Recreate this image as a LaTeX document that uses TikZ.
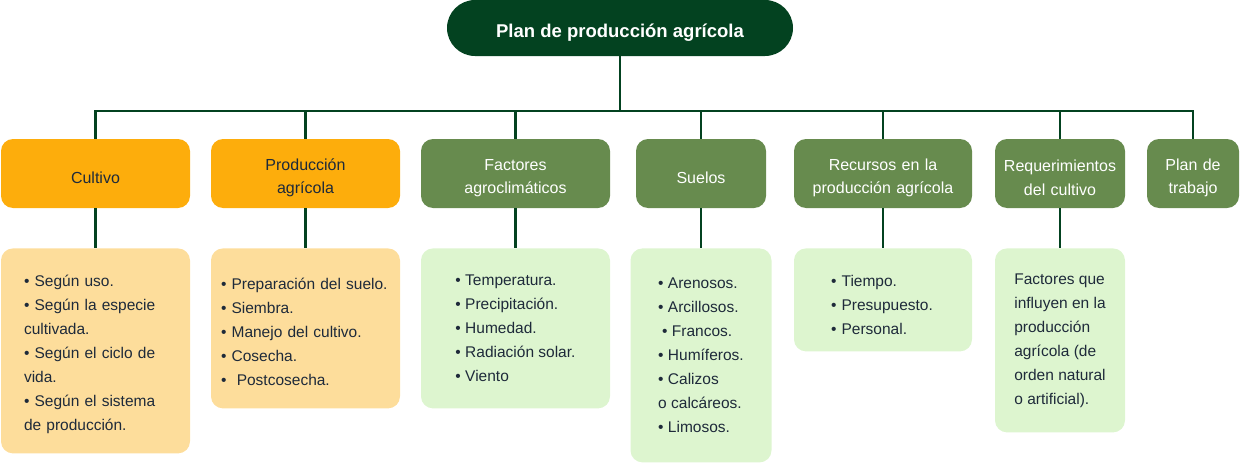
\documentclass[tikz,border=0pt]{standalone}
\usepackage{fontspec}
\setmainfont{Liberation Sans}
\usepackage{tikz}
\usetikzlibrary{positioning}
\definecolor{deepgreen}{RGB}{3,66,32}
\definecolor{leafgreen}{RGB}{103,139,78}
\definecolor{palegreen}{RGB}{221,245,207}
\definecolor{amber}{RGB}{253,173,12}
\definecolor{paleamber}{RGB}{253,221,155}
\definecolor{inktext}{RGB}{30,42,58}

\begin{document}
\begin{tikzpicture}[
  x=1pt, y=1pt,
  node distance=40pt,
  textdrop/.style={execute at begin node={\rule{0pt}{#1}}},
  root/.style={fill=deepgreen, text=white, rounded corners=28pt, minimum width=346pt, minimum height=56pt, text height=22pt, font=\fontsize{18.5}{22}\selectfont\bfseries},
  topic/.style={fill=leafgreen, text=white, rounded corners=12pt, minimum height=69pt, align=center, textdrop=20.5pt, font=\fontsize{16}{23.5}\selectfont},
  topicA/.style={topic, fill=amber, text=inktext},
  items/.style={fill=palegreen, text=inktext, rounded corners=12pt, align=left, font=\fontsize{15.5}{24}\selectfont},
  itemsA/.style={items, fill=paleamber},
  link/.style={draw=deepgreen, line width=2.8pt}
]
\useasboundingbox (0,0) rectangle (1240,-463);

\node[root] (plan) at (620,-28) {Plan de producción agrícola};
\coordinate (bar) at (620,-111);

\node[topicA, minimum width=189pt, text width=181pt] (cultivo) at (95.5,-173.5) {Cultivo};
\node[topicA, minimum width=189pt, text width=181pt] (produccion) at (305.5,-173.5) {Producción\\agrícola};
\node[topic, minimum width=189pt, text width=181pt] (factores) at (515.5,-173.5) {Factores\\agroclimáticos};
\node[topic, minimum width=130pt, text width=122pt] (suelos) at (701,-173.5) {Suelos};
\node[topic, minimum width=178pt, text width=170pt] (recursos) at (883,-173.5) {Recursos en la\\producción agrícola};
\node[topic, minimum width=130pt, text width=122pt] (requerimientos) at (1060,-173.5) {Requerimientos\\del cultivo};
\node[topic, minimum width=92pt, text width=84pt] (trabajo) at (1193,-173.5) {Plan de\\trabajo};

\node[itemsA, minimum width=189pt, minimum height=205pt, text width=143pt, textdrop=18pt, below=of cultivo] (cultivo-items) {• Según uso.\\• Según la especie\\cultivada.\\• Según el ciclo de\\vida.\\• Según el sistema\\de producción.};
\node[itemsA, minimum width=189pt, minimum height=160pt, text width=169pt, textdrop=17.5pt, below=of produccion] (produccion-items) {• Preparación del suelo.\\• Siembra.\\• Manejo del cultivo.\\• Cosecha.\\•~~Postcosecha.};
\node[items, minimum width=189pt, minimum height=160pt, below=of factores] (factores-items) {• Temperatura.\\• Precipitación.\\• Humedad.\\• Radiación solar.\\• Viento};
\node[items, minimum width=141pt, minimum height=214pt, below=of suelos] (suelos-items) {• Arenosos.\\• Arcillosos.\\\hspace{4pt}• Francos.\\• Humíferos.\\• Calizos\\o calcáreos.\\• Limosos.};
\node[items, minimum width=178pt, minimum height=103pt, text width=104pt, textdrop=21.5pt, below=of recursos] (recursos-items) {• Tiempo.\\• Presupuesto.\\• Personal.};
\node[items, minimum width=130pt, minimum height=184pt, below=of requerimientos] (requerimientos-items) {Factores que\\influyen en la\\producción\\agrícola (de\\orden natural\\o artificial).};

\draw[link] (plan) -- (bar);
\draw[link] (cultivo.north) -- (cultivo.north |- bar) -- (trabajo.north |- bar) -- (trabajo.north);
\draw[link] (produccion.north) -- (produccion.north |- bar);
\draw[link] (factores.north) -- (factores.north |- bar);
\draw[link] (suelos.north) -- (suelos.north |- bar);
\draw[link] (recursos.north) -- (recursos.north |- bar);
\draw[link] (requerimientos.north) -- (requerimientos.north |- bar);

\draw[link] (cultivo) -- (cultivo-items);
\draw[link] (produccion) -- (produccion-items);
\draw[link] (factores) -- (factores-items);
\draw[link] (suelos) -- (suelos-items);
\draw[link] (recursos) -- (recursos-items);
\draw[link] (requerimientos) -- (requerimientos-items);
\end{tikzpicture}
\end{document}
